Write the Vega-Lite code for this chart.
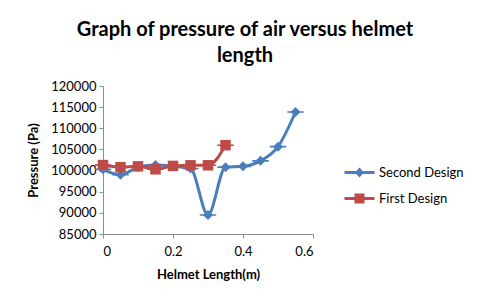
{
  "$schema": "https://vega.github.io/schema/vega-lite/v6.json",
  "autosize": "none",
  "width": 210,
  "height": 148,
  "padding": {"left": 103, "top": 86, "right": 175, "bottom": 72},
  "background": "white",
  "title": {
    "text": ["Graph of pressure of air versus helmet", "length"],
    "font": "Lato",
    "fontSize": 20,
    "fontWeight": "bold",
    "color": "#000000",
    "anchor": "middle",
    "dx": 37,
    "offset": 14,
    "lineHeight": 26
  },
  "data": {
    "values": [
      {"length": 0.0, "pressure": 100300, "design": "Second Design"},
      {"length": 0.05, "pressure": 99000, "design": "Second Design"},
      {"length": 0.1, "pressure": 100800, "design": "Second Design"},
      {"length": 0.15, "pressure": 101300, "design": "Second Design"},
      {"length": 0.2, "pressure": 101000, "design": "Second Design"},
      {"length": 0.25, "pressure": 100500, "design": "Second Design"},
      {"length": 0.3, "pressure": 89500, "design": "Second Design"},
      {"length": 0.35, "pressure": 100800, "design": "Second Design"},
      {"length": 0.4, "pressure": 101000, "design": "Second Design"},
      {"length": 0.45, "pressure": 102300, "design": "Second Design"},
      {"length": 0.5, "pressure": 105650, "design": "Second Design"},
      {"length": 0.55, "pressure": 113850, "design": "Second Design"},
      {"length": 0.0, "pressure": 101300, "design": "First Design"},
      {"length": 0.05, "pressure": 100800, "design": "First Design"},
      {"length": 0.1, "pressure": 101000, "design": "First Design"},
      {"length": 0.15, "pressure": 100300, "design": "First Design"},
      {"length": 0.2, "pressure": 101100, "design": "First Design"},
      {"length": 0.25, "pressure": 101250, "design": "First Design"},
      {"length": 0.3, "pressure": 101250, "design": "First Design"},
      {"length": 0.35, "pressure": 106000, "design": "First Design"}
    ]
  },
  "encoding": {
    "x": {
      "field": "length",
      "type": "quantitative",
      "scale": {"domain": [0, 0.6], "nice": false},
      "axis": {
        "title": "Helmet Length(m)",
        "values": [0, 0.2, 0.4, 0.6],
        "format": "~g",
        "grid": false,
        "domainColor": "#8c8c8c",
        "tickColor": "#8c8c8c",
        "ticks": true,
        "tickSize": 4,
        "labelFont": "Lato",
        "labelFontSize": 13,
        "labelColor": "#000000",
        "labelPadding": 7,
        "titleFont": "Lato",
        "titleFontSize": 13,
        "titleFontWeight": "bold",
        "titleColor": "#000000",
        "titlePadding": 10
      }
    },
    "y": {
      "field": "pressure",
      "type": "quantitative",
      "scale": {"domain": [85000, 120000], "nice": false, "zero": false},
      "axis": {
        "title": "Pressure (Pa)",
        "values": [85000, 90000, 95000, 100000, 105000, 110000, 115000, 120000],
        "format": "d",
        "grid": false,
        "domainColor": "#8c8c8c",
        "tickColor": "#8c8c8c",
        "tickSize": 4,
        "labelFont": "Lato",
        "labelFontSize": 13,
        "labelColor": "#000000",
        "labelPadding": 3,
        "titleFont": "Lato",
        "titleFontSize": 13,
        "titleFontWeight": "bold",
        "titleColor": "#000000",
        "titlePadding": 10
      }
    },
    "color": {
      "field": "design",
      "type": "nominal",
      "scale": {"domain": ["Second Design", "First Design"], "range": ["#4A7EBB", "#BE4B48"]},
      "legend": {
        "title": null,
        "orient": "none",
        "legendX": 250,
        "legendY": 80,
        "labelFont": "Lato",
        "labelFontSize": 13,
        "labelColor": "#000000",
        "rowPadding": 12,
        "symbolSize": 100,
        "symbolStrokeWidth": 0,
        "labelOffset": 13
      }
    }
  },
  "layer": [
    {
      "mark": {"type": "line", "interpolate": "monotone", "strokeWidth": 3},
      "encoding": {
        "shape": {
          "field": "design",
          "type": "nominal",
          "scale": {
            "domain": ["Second Design", "First Design"],
            "range": [
              "M-3,-0.3H3V0.3H-3Z M0,-1L0.9,0L0,1L-0.9,0Z",
              "M-3,-0.3H3V0.3H-3Z M-1,-1H1V1H-1Z"
            ]
          }
        }
      }
    },
    {
      "transform": [{"filter": "datum.design === 'Second Design'"}],
      "mark": {"type": "point", "filled": true, "opacity": 1, "size": 100, "shape": "diamond"}
    },
    {
      "transform": [{"filter": "datum.design === 'First Design'"}],
      "mark": {"type": "point", "filled": true, "opacity": 1, "size": 110, "shape": "square"}
    }
  ],
  "config": {"view": {"stroke": null}}
}
